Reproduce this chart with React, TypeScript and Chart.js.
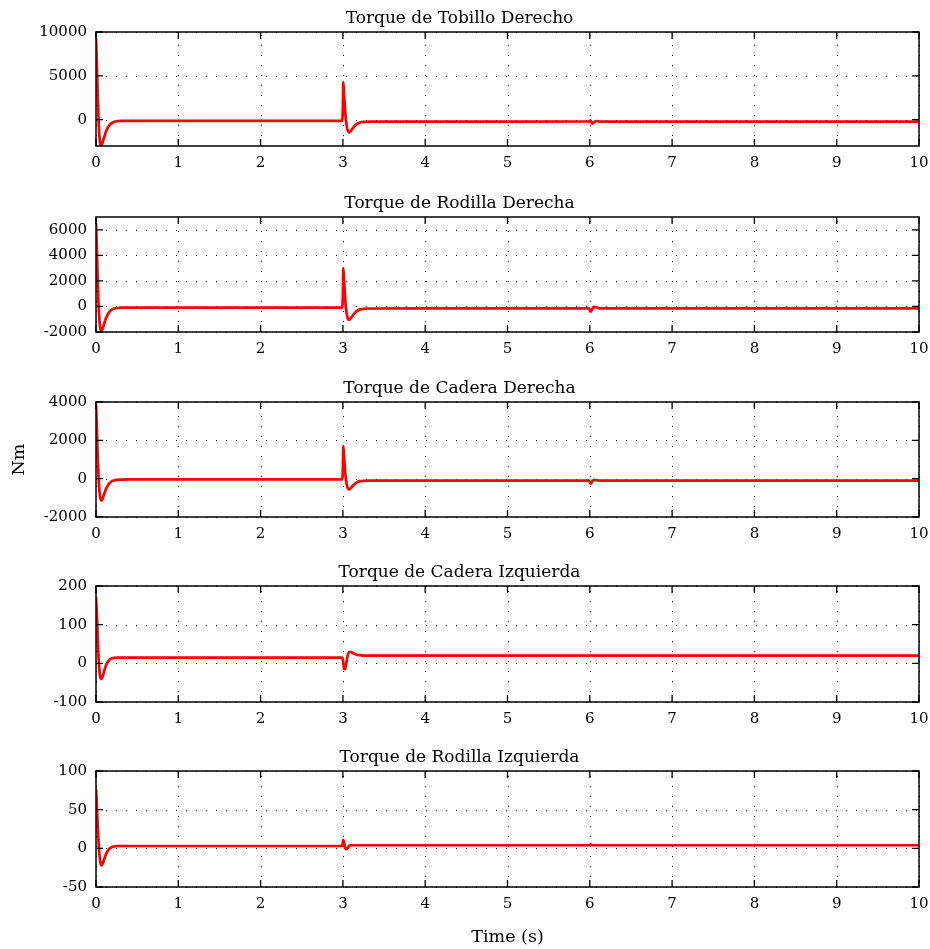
import React, { useEffect, useRef } from 'react';
import { Chart, registerables } from 'chart.js';

Chart.register(...registerables);

// ---- data ----
const time = [0, 0.01, 0.02, 0.03, 0.04, 0.05, 0.06, 0.07, 0.08, 0.1, 0.12, 0.15, 0.18, 0.22, 0.26, 0.3, 0.4, 1, 2, 2.99, 3.0, 3.005, 3.015, 3.03, 3.045, 3.06, 3.075, 3.09, 3.11, 3.14, 3.17, 3.21, 3.26, 3.35, 4, 5, 5.99, 6.01, 6.03, 6.05, 6.08, 6.12, 7, 8, 9, 10];

const ankleRight = [9300, 6500, 3200, 300, -1700, -2600, -2900, -2850, -2600, -2000, -1400, -800, -450, -250, -170, -140, -130, -130, -130, -130, 1500, 4300, 2800, 700, -600, -1250, -1450, -1350, -1100, -750, -480, -320, -250, -220, -210, -210, -200, -80, -450, -300, -150, -220, -220, -220, -220, -220];
const kneeRight = [6500, 4600, 2300, 300, -900, -1600, -1900, -1900, -1750, -1350, -950, -550, -300, -170, -120, -100, -100, -100, -100, -100, 1000, 3000, 1900, 400, -500, -950, -1050, -980, -800, -550, -350, -230, -180, -160, -150, -150, -150, -400, -200, -30, -60, -150, -150, -150, -150, -150];
const hipRight = [3900, 2700, 1300, 200, -550, -950, -1120, -1130, -1050, -800, -560, -320, -170, -90, -60, -45, -40, -40, -40, -40, 600, 1700, 1100, 250, -250, -500, -560, -520, -420, -290, -190, -130, -110, -100, -100, -100, -100, -260, -150, -60, -80, -100, -100, -100, -100, -100];
const hipLeft = [171, 130, 75, 20, -15, -33, -40, -39, -34, -20, -6, 6, 12, 14, 15, 15, 15, 15, 15, 15, 10, 0, -15, -14, 5, 22, 29, 30, 28, 25, 22, 21, 20, 20, 20, 20, 20, 21, 20, 20, 20, 20, 20, 20, 20, 20];
const kneeLeft = [76, 57, 32, 10, -6, -16, -21, -22, -20, -14, -8, -2, 1, 2.5, 3, 3, 3, 3, 3, 3, 8, 11, 7, 0, -1, 1, 3, 4, 4, 4, 4, 4, 4, 4, 4, 4, 4, 5, 4, 4, 4, 4, 4, 4, 4, 4];

const xTicks = [0, 1, 2, 3, 4, 5, 6, 7, 8, 9, 10];
const ankleTicks = [0, 5000, 10000];
const kneeRightTicks = [-2000, 0, 2000, 4000, 6000];
const hipRightTicks = [-2000, 0, 2000, 4000];
const hipLeftTicks = [-100, 0, 100, 200];
const kneeLeftTicks = [-50, 0, 50, 100];

const titles = [
  'Torque de Tobillo Derecho',
  'Torque de Rodilla Derecha',
  'Torque de Cadera Derecha',
  'Torque de Cadera Izquierda',
  'Torque de Rodilla Izquierda',
];
const yLabel = 'Nm';
const xLabel = 'Time (s)';

const FONT = 'DejaVu Serif';

const frameGridPlugin = {
  id: 'frameGrid',
  beforeDatasetsDraw(chart: any) {
    const { ctx, chartArea: a, scales } = chart;
    ctx.save();
    ctx.strokeStyle = '#000';
    ctx.lineWidth = 1;
    ctx.setLineDash([1, 9]);
    scales.x.ticks.forEach((t: any) => {
      const px = Math.round(scales.x.getPixelForValue(t.value)) + 0.5;
      ctx.beginPath();
      ctx.moveTo(px, a.bottom);
      ctx.lineTo(px, a.top);
      ctx.stroke();
    });
    scales.y.ticks.forEach((t: any) => {
      const py = Math.round(scales.y.getPixelForValue(t.value)) + 0.5;
      ctx.beginPath();
      ctx.moveTo(a.left, py);
      ctx.lineTo(a.right, py);
      ctx.stroke();
    });
    ctx.restore();
  },
  afterDatasetsDraw(chart: any) {
    const { ctx, chartArea: a, scales } = chart;
    const tl = 7;
    ctx.save();
    ctx.strokeStyle = '#000';
    ctx.lineWidth = 1.3;
    ctx.setLineDash([]);
    scales.x.ticks.forEach((t: any) => {
      const px = scales.x.getPixelForValue(t.value);
      ctx.beginPath();
      ctx.moveTo(px, a.bottom);
      ctx.lineTo(px, a.bottom - tl);
      ctx.moveTo(px, a.top);
      ctx.lineTo(px, a.top + tl);
      ctx.stroke();
    });
    scales.y.ticks.forEach((t: any) => {
      const py = scales.y.getPixelForValue(t.value);
      ctx.beginPath();
      ctx.moveTo(a.left, py);
      ctx.lineTo(a.left + tl, py);
      ctx.moveTo(a.right, py);
      ctx.lineTo(a.right - tl, py);
      ctx.stroke();
    });
    ctx.lineWidth = 1.5;
    ctx.strokeRect(a.left, a.top, a.right - a.left, a.bottom - a.top);
    ctx.restore();
  },
};

type PanelProps = {
  title: string;
  values: number[];
  yMin: number;
  yMax: number;
  yTicks: number[];
  plotTop: number;
  plotBottom: number;
  xAxisHeight: number;
  yTitle?: string;
  xTitle?: string;
};

function Panel(p: PanelProps) {
  const ref = useRef<HTMLCanvasElement | null>(null);
  const titleBlock = 32;
  const canvasTop = p.plotTop - titleBlock;
  const height = titleBlock + (p.plotBottom - p.plotTop) + p.xAxisHeight;

  useEffect(() => {
    if (!ref.current) return;
    const chart = new Chart(ref.current, {
      type: 'line',
      data: {
        datasets: [
          {
            data: time.map((t, i) => ({ x: t, y: p.values[i] })),
            borderColor: '#ff0000',
            borderWidth: 2.7,
            pointRadius: 0,
            fill: false,
            cubicInterpolationMode: 'monotone',
          },
        ],
      },
      options: {
        responsive: false,
        animation: false,
        events: [],
        layout: { padding: { top: 0, left: 0, right: 11, bottom: 0 } },
        plugins: {
          legend: { display: false },
          tooltip: { enabled: false },
          title: {
            display: true,
            text: p.title,
            color: '#000',
            font: { family: FONT, size: 17, weight: 'normal' },
            padding: { top: 8, bottom: 3.6 },
          },
        },
        scales: {
          x: {
            type: 'linear',
            min: 0,
            max: 10,
            afterBuildTicks: (s: any) => {
              s.ticks = xTicks.map((v) => ({ value: v }));
            },
            afterFit: (s: any) => {
              s.height = p.xAxisHeight;
              s.paddingLeft = 0;
              s.paddingRight = 0;
            },
            grid: { display: false, drawTicks: false },
            border: { display: false },
            ticks: {
              padding: 8,
              color: '#000',
              font: { family: FONT, size: 15 },
              maxRotation: 0,
              autoSkip: false,
              callback: (v: any) => String(v),
            },
            title: {
              display: !!p.xTitle,
              text: p.xTitle || '',
              color: '#000',
              font: { family: FONT, size: 17.5 },
              padding: { top: 4, bottom: 1.5 },
            },
          },
          y: {
            type: 'linear',
            min: p.yMin,
            max: p.yMax,
            afterBuildTicks: (s: any) => {
              s.ticks = p.yTicks.map((v) => ({ value: v }));
            },
            afterFit: (s: any) => {
              s.width = 96;
            },
            grid: { display: false, drawTicks: false },
            border: { display: false },
            ticks: {
              padding: 9,
              color: '#000',
              font: { family: FONT, size: 15 },
              autoSkip: false,
              callback: (v: any) => String(v),
            },
            title: {
              display: !!p.yTitle,
              text: p.yTitle || '',
              color: '#000',
              font: { family: FONT, size: 17.5 },
              padding: { top: 8.5, bottom: 0 },
            },
          },
        },
      } as any,
      plugins: [frameGridPlugin],
    });
    return () => chart.destroy();
  }, []);

  return (
    <div style={{ position: 'absolute', left: 0, top: canvasTop, width: 930, height }}>
      <canvas ref={ref} width={930} height={height} style={{ display: 'block' }} />
    </div>
  );
}

export default function App() {
  return (
    <div style={{ position: 'absolute', left: 0, top: 0, width: 930, height: 949, background: '#fff' }}>
      <Panel title={titles[0]} values={ankleRight} yMin={-3000} yMax={10000} yTicks={ankleTicks} plotTop={32} plotBottom={146} xAxisHeight={40} />
      <Panel title={titles[1]} values={kneeRight} yMin={-2000} yMax={7000} yTicks={kneeRightTicks} plotTop={217} plotBottom={332} xAxisHeight={40} />
      <Panel title={titles[2]} values={hipRight} yMin={-2000} yMax={4000} yTicks={hipRightTicks} plotTop={402} plotBottom={517} xAxisHeight={40} yTitle={yLabel} />
      <Panel title={titles[3]} values={hipLeft} yMin={-100} yMax={200} yTicks={hipLeftTicks} plotTop={586} plotBottom={702} xAxisHeight={40} />
      <Panel title={titles[4]} values={kneeLeft} yMin={-50} yMax={100} yTicks={kneeLeftTicks} plotTop={771} plotBottom={887} xAxisHeight={62} xTitle={xLabel} />
    </div>
  );
}
